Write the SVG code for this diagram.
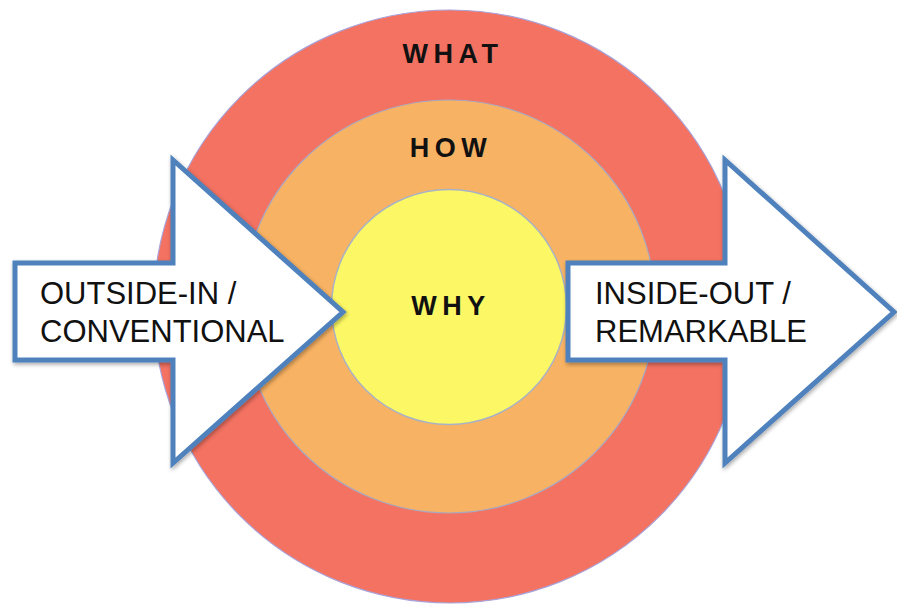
<svg xmlns="http://www.w3.org/2000/svg" width="897" height="607" viewBox="0 0 897 607">
  <defs>
    <filter id="shadow" x="-10%" y="-10%" width="130%" height="130%">
      <feGaussianBlur in="SourceAlpha" stdDeviation="2"/>
      <feOffset dx="1" dy="2" result="b"/>
      <feComponentTransfer><feFuncA type="linear" slope="0.35"/></feComponentTransfer>
      <feMerge><feMergeNode/><feMergeNode in="SourceGraphic"/></feMerge>
    </filter>
  </defs>
  <style>
    .ring-label { font-family: "Liberation Sans", Arial, sans-serif; font-weight: bold; font-size: 27px; letter-spacing: 5.5px; fill: #111; text-anchor: middle; }
    .arrow { fill: #ffffff; stroke: #4F81BD; stroke-width: 5; stroke-linejoin: miter; }
    .arrow-label { font-family: "Liberation Sans", Arial, sans-serif; font-size: 31px; fill: #111; }
  </style>
  <rect width="897" height="607" fill="#ffffff"/>
  <g id="what">
    <circle cx="450" cy="306.5" r="296.5" fill="#F37262" stroke="#A9A2D8" stroke-width="1.2"/>
    <text class="ring-label" x="453" y="63">WHAT</text>
  </g>
  <g id="how">
    <circle cx="449" cy="306.5" r="206.5" fill="#F8B263" stroke="#A9A8C0" stroke-width="1.2"/>
    <text class="ring-label" x="451" y="157">HOW</text>
  </g>
  <g id="why">
    <circle cx="449" cy="307" r="117.5" fill="#FCF865" stroke="#A9B2C4" stroke-width="1.5"/>
    <text class="ring-label" x="451" y="315">WHY</text>
  </g>
  <g id="connectors">
    <g id="outside-in">
      <polygon class="arrow" filter="url(#shadow)" points="15,263 173,263 173,160 343,312 173,463 173,360 15,360"/>
      <text class="arrow-label" x="40" y="304">OUTSIDE-IN /</text>
      <text class="arrow-label" x="40" y="342">CONVENTIONAL</text>
    </g>
    <g id="inside-out">
      <polygon class="arrow" filter="url(#shadow)" points="568,263 725,263 725,160 894,312 725,463 725,360 568,360"/>
      <text class="arrow-label" x="595" y="304">INSIDE-OUT /</text>
      <text class="arrow-label" x="595" y="342">REMARKABLE</text>
    </g>
  </g>
</svg>
